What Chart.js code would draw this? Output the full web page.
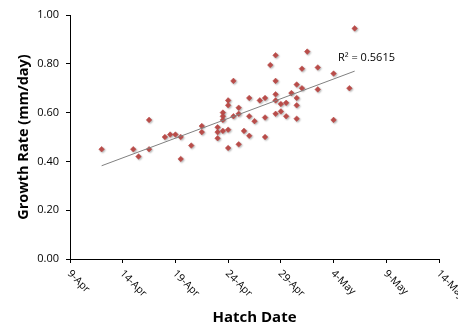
<!DOCTYPE html>
<html><head><meta charset="utf-8">
<script src="https://cdn.jsdelivr.net/npm/chart.js@4/dist/chart.umd.min.js"></script>
<style>html,body{margin:0;padding:0;background:#fff;}#wrap{width:458px;height:327px;}</style>
</head><body><div id="wrap"><canvas id="c" width="458" height="327"></canvas></div>
<script>
// Hatch date as days after 9-Apr
const hatchDay = [3, 6, 6.5, 7.5, 7.5, 9, 9.5, 10, 10.5, 10.5, 11.5, 12.5, 12.5, 14, 14, 14,
  14.5, 14.5, 14.5, 14.5, 15, 15, 15, 15, 15.5, 15.5, 16, 16, 16, 16.5, 17, 17, 17, 17.5,
  18, 18.5, 18.5, 18.5, 19, 19.5, 19.5, 19.5, 19.5, 19.5, 20, 20, 20.5, 20.5, 21, 21.5,
  21.5, 21.5, 21.5, 22, 22, 22.5, 23.5, 23.5, 25, 25, 26.5, 27];
const growthRate = [0.45, 0.45, 0.42, 0.57, 0.45, 0.50, 0.51, 0.51, 0.50, 0.41, 0.465, 0.545, 0.52, 0.54, 0.52, 0.495,
  0.525, 0.60, 0.585, 0.57, 0.65, 0.63, 0.53, 0.455, 0.73, 0.585, 0.62, 0.595, 0.47, 0.525, 0.66, 0.585, 0.505, 0.565,
  0.65, 0.66, 0.58, 0.50, 0.795, 0.835, 0.73, 0.675, 0.65, 0.595, 0.635, 0.605, 0.64, 0.585, 0.68, 0.715,
  0.66, 0.63, 0.575, 0.78, 0.70, 0.85, 0.785, 0.695, 0.76, 0.57, 0.70, 0.945];
const xTickLabels = ['9-Apr', '14-Apr', '19-Apr', '24-Apr', '29-Apr', '4-May', '9-May', '14-May'];
const rSquaredLabel = 'R\u00B2 = 0.5615';
const xTitle = 'Hatch Date';
const yTitle = 'Growth Rate (mm/day)';

const points = hatchDay.map((d, i) => ({x: d, y: growthRate[i]}));
// least-squares linear trendline from the data
const n = hatchDay.length;
const mx = hatchDay.reduce((a, b) => a + b, 0) / n;
const my = growthRate.reduce((a, b) => a + b, 0) / n;
let sxy = 0, sxx = 0;
for (let i = 0; i < n; i++) { sxy += (hatchDay[i] - mx) * (growthRate[i] - my); sxx += (hatchDay[i] - mx) ** 2; }
const slope = sxy / sxx, intercept = my - slope * mx;
const xMin = Math.min(...hatchDay), xMax = Math.max(...hatchDay);
const trend = [{x: xMin, y: intercept + slope * xMin}, {x: xMax, y: intercept + slope * xMax}];

const FONT = "'Open Sans', 'Liberation Sans', sans-serif";

const decor = {
  id: 'decor',
  beforeDatasetDraw(chart, args) {
    if (args.index === 0) {
      const ctx = chart.ctx; ctx.save();
      ctx.shadowColor = 'rgba(0,0,0,0.3)'; ctx.shadowBlur = 2; ctx.shadowOffsetX = 1; ctx.shadowOffsetY = 1;
    }
  },
  afterDatasetDraw(chart, args) { if (args.index === 0) chart.ctx.restore(); },
  afterDraw(chart) {
    const ctx = chart.ctx, xs = chart.scales.x, ca = chart.chartArea;
    ctx.save();
    ctx.fillStyle = '#000';
    ctx.font = '10.5px ' + FONT;
    ctx.textAlign = 'left'; ctx.textBaseline = 'middle';
    xTickLabels.forEach((lab, i) => {
      const px = xs.getPixelForValue(i * 5);
      ctx.save();
      ctx.translate(px - 1, ca.bottom + 13);
      ctx.rotate(Math.PI / 4);
      ctx.fillText(lab, 0, 0);
      ctx.restore();
    });
    ctx.font = 'bold 15px ' + FONT;
    ctx.textAlign = 'center';
    ctx.fillText(xTitle, (ca.left + ca.right) / 2, 318);
    ctx.save();
    ctx.translate(24, (ca.top + ca.bottom) / 2);
    ctx.rotate(-Math.PI / 2);
    ctx.font = 'bold 14.5px ' + FONT;
    ctx.fillText(yTitle, 0, 0);
    ctx.restore();
    ctx.font = '11px ' + FONT;
    ctx.textAlign = 'left';
    ctx.fillText(rSquaredLabel, 338, 58);
    ctx.restore();
  }
};

new Chart(document.getElementById('c'), {
  type: 'scatter',
  data: {
    datasets: [
      { data: points, pointStyle: 'rectRot', pointRadius: 2.8, backgroundColor: '#C0504D',
        borderColor: '#B84542', borderWidth: 0.5, order: 1 },
      { type: 'line', data: trend, borderColor: '#808080', borderWidth: 1, pointRadius: 0,
        fill: false, order: 0 }
    ]
  },
  options: {
    responsive: false, animation: false, devicePixelRatio: 1,
    layout: { padding: { left: 0, right: 19, top: 15, bottom: 0 } },
    plugins: { legend: { display: false }, tooltip: { enabled: false } },
    scales: {
      x: {
        type: 'linear', min: 0, max: 35,
        afterFit(s) { s.height = 68; },
        ticks: { stepSize: 5, display: false, autoSkip: false },
        grid: { drawOnChartArea: false, drawTicks: true, tickLength: 4, color: '#000', tickColor: '#000' },
        border: { color: '#000', width: 1 }
      },
      y: {
        min: 0, max: 1,
        afterFit(s) { s.width = 70; },
        ticks: { stepSize: 0.2, padding: 7, color: '#000', font: { size: 11, family: FONT },
          callback: v => v.toFixed(2) },
        grid: { drawOnChartArea: false, drawTicks: true, tickLength: 4, color: '#000', tickColor: '#000' },
        border: { color: '#000', width: 1 }
      }
    }
  },
  plugins: [decor]
});
</script></body></html>
